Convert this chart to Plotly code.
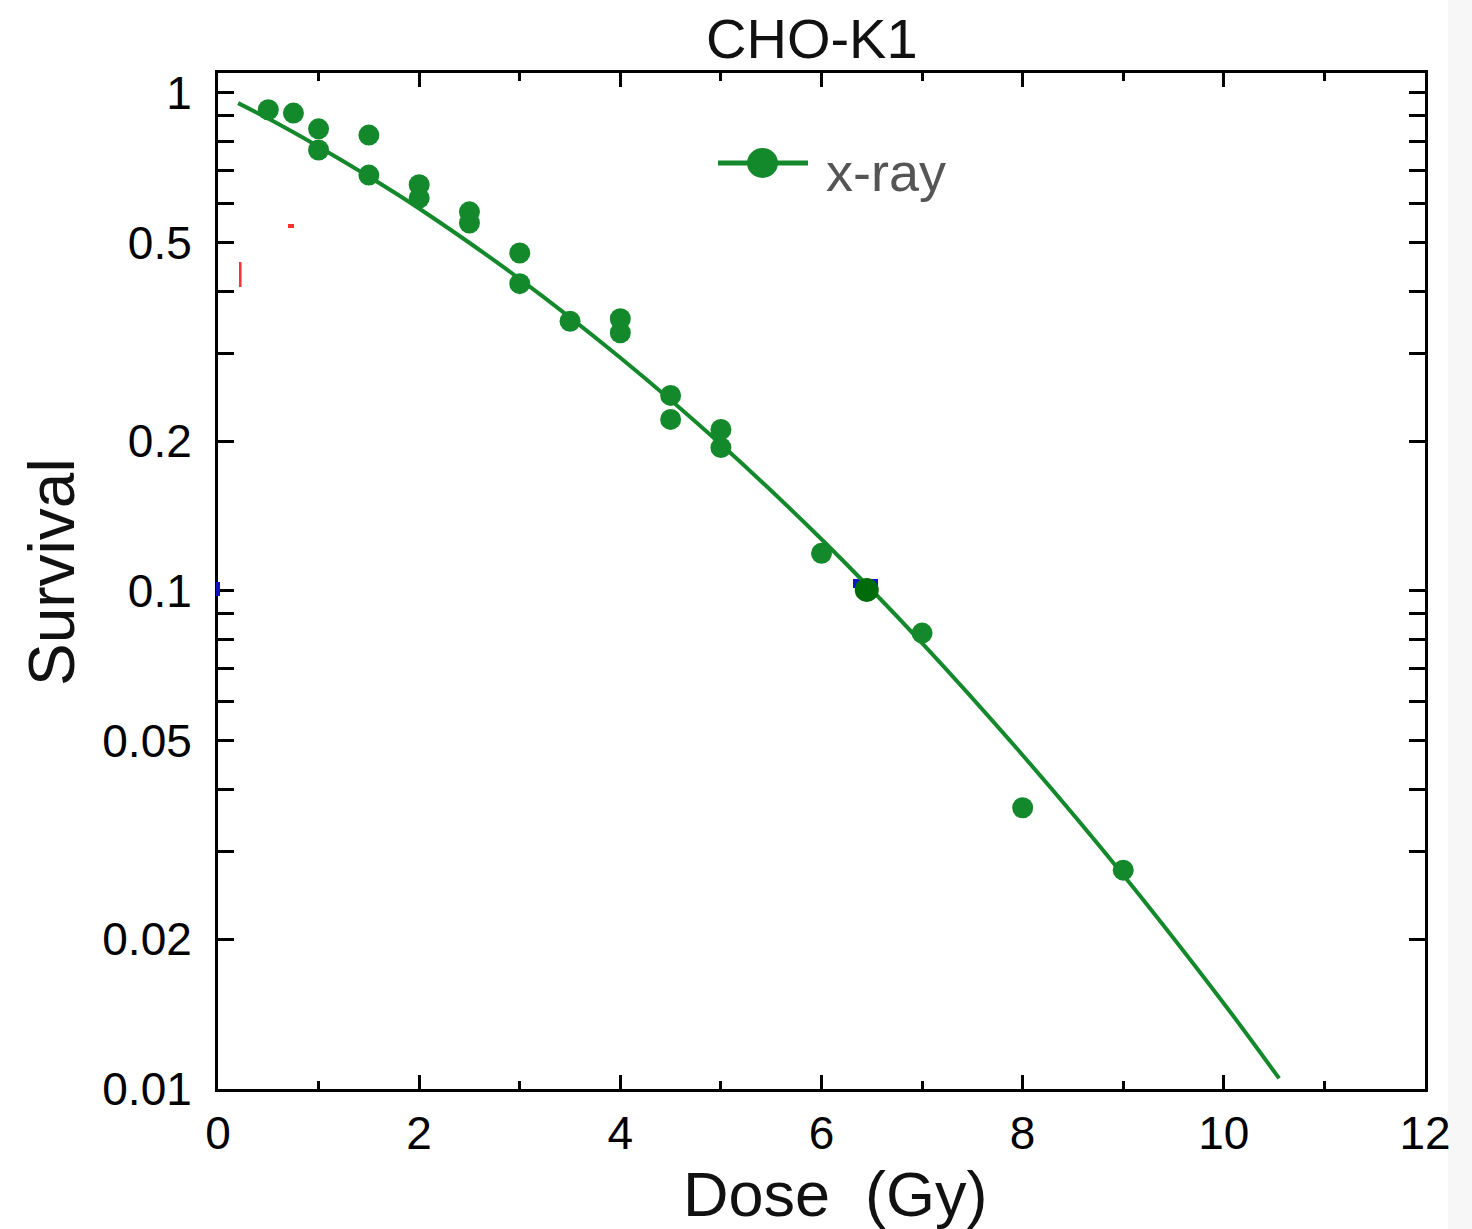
import plotly.graph_objects as go

# ---- data ----
dose = [0.5, 0.75, 1.0, 1.0, 1.5, 1.5, 2.0, 2.0, 2.5, 2.5, 3.0, 3.0, 3.5, 4.0, 4.0,
        4.5, 4.5, 5.0, 5.0, 6.0, 7.0, 8.0, 9.0]
survival = [0.925, 0.911, 0.847, 0.768, 0.823, 0.684, 0.654, 0.615, 0.577, 0.548,
            0.477, 0.414, 0.348, 0.352, 0.330, 0.247, 0.221, 0.211, 0.194, 0.119,
            0.0823, 0.0367, 0.0275]
highlight_dose = [6.45]
highlight_survival = [0.1005]

fit_dose = [0.2, 0.5, 1.0, 1.5, 2.0, 3.0, 4.0, 5.0, 6.0, 7.0, 8.0, 9.0, 10.0, 10.55]
fit_survival = [0.954, 0.888, 0.780, 0.679, 0.586, 0.423, 0.294, 0.197, 0.127,
                0.0786, 0.0468, 0.0269, 0.01485, 0.0105]

x_ticks = [0, 2, 4, 6, 8, 10, 12]
y_labels = {1: "1", 0.5: "0.5", 0.2: "0.2", 0.1: "0.1", 0.05: "0.05", 0.02: "0.02", 0.01: "0.01"}
y_tickvals = [round(k * d, 4) for d in (0.01, 0.1) for k in range(1, 10)] + [1]
y_ticktext = [y_labels.get(v, "") for v in y_tickvals]

GREEN = "#14892c"
FONT = "Liberation Sans, Arial, sans-serif"

# ---- layout geometry (pixels) ----
W, H = 1472, 1229
L, R, T, B = 218, 1425, 73, 1089


def px(x):
    return (x - L) / (R - L)


def py(y):
    return (B - y) / (B - T)


fig = go.Figure()
fig.add_trace(go.Scatter(x=fit_dose, y=fit_survival, mode="lines",
                         line=dict(color=GREEN, width=4, shape="spline"),
                         showlegend=False, hoverinfo="skip"))
fig.add_trace(go.Scatter(x=dose, y=survival, mode="markers",
                         marker=dict(color=GREEN, size=21, line=dict(width=0)),
                         name="x-ray", showlegend=False))
fig.add_trace(go.Scatter(x=highlight_dose, y=highlight_survival, mode="markers",
                         marker=dict(color="#006b0a", size=24, line=dict(width=0)),
                         showlegend=False))

shapes = [
    # light strip at the right edge
    dict(type="rect", xref="paper", yref="paper", x0=px(1448), x1=px(1472), y0=py(1229), y1=py(0),
         fillcolor="#f7f7f7", line=dict(width=0), layer="below"),
    # legend line and marker
    dict(type="line", xref="paper", yref="paper", x0=px(718), x1=px(808), y0=py(163), y1=py(163),
         line=dict(color=GREEN, width=5)),
    dict(type="circle", xref="paper", yref="paper", x0=px(747), x1=px(778), y0=py(178), y1=py(148),
         fillcolor=GREEN, line=dict(width=0)),
    # small artefacts
    dict(type="rect", xref="paper", yref="paper", x0=px(853), x1=px(878), y0=py(588), y1=py(579),
         fillcolor="#1010d0", line=dict(width=0), layer="below"),
    dict(type="rect", xref="paper", yref="paper", x0=px(216), x1=px(220), y0=py(596), y1=py(582),
         fillcolor="#1010c0", line=dict(width=0)),
    dict(type="rect", xref="paper", yref="paper", x0=px(239), x1=px(241.5), y0=py(287), y1=py(262),
         fillcolor="#ff3030", line=dict(width=0)),
    dict(type="rect", xref="paper", yref="paper", x0=px(288), x1=px(294), y0=py(228), y1=py(224),
         fillcolor="#ff3030", line=dict(width=0)),
]

annotations = [
    dict(text="CHO-K1", xref="paper", yref="paper", x=px(812), y=py(38), showarrow=False,
         font=dict(family=FONT, size=56, color="#111111"), xanchor="center", yanchor="middle"),
    dict(text="Dose&nbsp; (Gy)", xref="paper", yref="paper", x=px(836), y=py(1194), showarrow=False,
         font=dict(family=FONT, size=63, color="#111111"), xanchor="center", yanchor="middle"),
    dict(text="Survival", xref="paper", yref="paper", x=px(52), y=py(572), showarrow=False,
         textangle=-90, font=dict(family=FONT, size=64, color="#111111"),
         xanchor="center", yanchor="middle"),
    dict(text="x-ray", xref="paper", yref="paper", x=px(824), y=py(172), showarrow=False,
         font=dict(family=FONT, size=54, color="#555555"), xanchor="left", yanchor="middle"),
]

fig.update_layout(
    width=W, height=H,
    margin=dict(l=L, r=W - R, t=T, b=H - B, pad=0),
    paper_bgcolor="white", plot_bgcolor="white",
    shapes=shapes, annotations=annotations,
    showlegend=False,
    font=dict(family=FONT, color="#000000"),
)
fig.update_xaxes(
    range=[0, 12], tickvals=x_ticks, ticktext=[str(v) for v in x_ticks],
    ticks="inside", ticklen=14, tickwidth=3, tickcolor="black",
    minor=dict(dtick=1, tick0=0, ticks="inside", ticklen=8, tickwidth=3, tickcolor="black"),
    showline=True, linecolor="black", linewidth=3, mirror="ticks",
    showgrid=False, zeroline=False,
    tickfont=dict(family=FONT, size=46, color="#000000"), ticklabelstandoff=2,
)
fig.update_yaxes(
    type="log", range=[-2.0, 0.04],
    tickvals=y_tickvals, ticktext=y_ticktext,
    ticks="inside", ticklen=16, tickwidth=3, tickcolor="black",
    showline=True, linecolor="black", linewidth=3, mirror="ticks",
    showgrid=False, zeroline=False,
    tickfont=dict(family=FONT, size=46, color="#000000"), ticklabelstandoff=14,
)

fig.write_html("out.html")
